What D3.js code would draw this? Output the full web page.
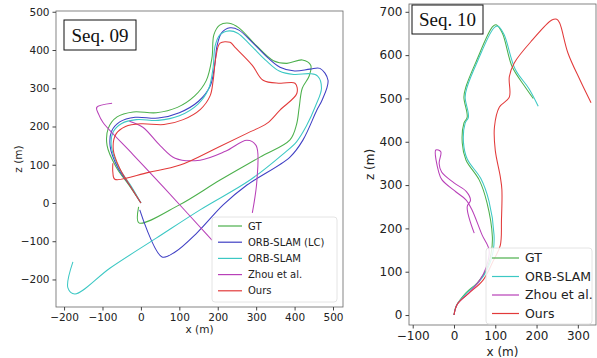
<!DOCTYPE html>
<html>
<head>
<meta charset="utf-8">
<script src="https://cdn.jsdelivr.net/npm/d3@7"></script>
<style>
  body { margin: 0; background: #fff; }
  text { font-family: "DejaVu Sans", sans-serif; }
</style>
</head>
<body>
<svg id="chart" width="597" height="358"></svg>
<script>
// ---- Seq. 09 trajectories, [x, z] in metres ----
const gt09 = [[0,0],[-30,45],[-65,95],[-88,150],[-85,195],[-62,225],[-20,238],[40,236],[95,250],[140,280],[170,320],[185,380],[190,440],[205,465],[230,470],[255,458],[300,412],[345,372],[380,365],[420,374],[442,360],[438,332],[420,300],[412,250],[405,205],[388,165],[310,120],[206,60],[100,-5],[-5,-52],[-6,-10]];
const orbLc09 = [[0,0],[-26,42],[-60,92],[-80,148],[-76,188],[-55,212],[-15,224],[45,222],[100,236],[150,266],[180,305],[192,360],[198,410],[210,445],[232,458],[255,452],[290,420],[330,380],[362,355],[400,345],[440,350],[466,352],[487,321],[472,270],[458,243],[422,165],[388,120],[276,47],[214,-5],[146,-78],[89,-128],[55,-141],[-3,-18]];
const orb09 = [[0,0],[-24,42],[-57,92],[-77,148],[-72,186],[-50,208],[-12,218],[45,216],[100,228],[148,258],[176,298],[188,355],[193,410],[206,440],[230,450],[252,444],[286,412],[326,372],[360,345],[398,336],[440,338],[460,332],[470,300],[455,255],[430,200],[405,160],[370,128],[284,60],[154,-18],[40,-92],[-80,-170],[-172,-238],[-190,-222],[-177,-154]];
const zhouA09 = [[-75,261],[-115,250],[-110,232],[-99,211],[-20,126],[60,40],[185,-97]];
const zhouB09 = [[-30,214],[5,198],[50,150],[89,117],[154,112],[220,135],[276,164],[300,150],[302,60],[290,-26]];
const ours09 = [[0,0],[-25,40],[-55,90],[-72,140],[-65,180],[-40,200],[0,207],[60,205],[110,218],[155,245],[180,280],[188,320],[195,380],[206,418],[232,420],[245,407],[290,360],[318,321],[362,313],[401,313],[406,287],[362,243],[328,208],[276,182],[200,145],[102,99],[20,80],[-68,62],[-73,80],[-73,104]];

// ---- Seq. 10 trajectories ----
const gt10 = [[0,0],[5,20],[29,51],[56,74],[78,104],[90,143],[93,180],[80,259],[61,312],[29,358],[20,397],[24,443],[32,457],[24,503],[29,527],[54,586],[93,665],[102,670],[117,651],[141,573],[172,527],[192,500]];
const orb10 = [[0,0],[6,22],[32,52],[60,76],[82,108],[95,148],[97,185],[85,262],[65,315],[32,360],[23,398],[27,443],[35,457],[27,503],[32,527],[57,586],[96,662],[106,667],[121,648],[148,568],[182,522],[204,482]];
const zhou10 = [[0,0],[8,25],[35,50],[62,80],[78,110],[85,150],[68,185],[44,242],[29,266],[5,284],[-29,312],[-37,330],[-44,381],[-32,377],[-36,350],[-30,330],[0,305],[30,285],[40,265],[32,250],[49,189]];
const ours10 = [[0,0],[8,25],[37,51],[70,80],[95,125],[112,160],[115,220],[116,290],[112,320],[100,380],[98,434],[110,480],[134,503],[134,550],[146,582],[190,635],[237,681],[249,683],[256,674],[276,605],[305,543],[332,490]];

const ticks09X = [-200, -100, 0, 100, 200, 300, 400, 500];
const ticks09Y = [-200, -100, 0, 100, 200, 300, 400, 500];
const ticks10X = [-100, 0, 100, 200, 300];
const ticks10Y = [0, 100, 200, 300, 400, 500, 600, 700];

const colors = {
  gt: "#4cb04c",
  orbLc: "#3f3fc4",
  orb: "#3cc8c4",
  zhou: "#b840b8",
  ours: "#e23a3a"
};

const svg = d3.select("#chart");

function drawPanel(cfg) {
  const x = d3.scaleLinear().domain(cfg.xDomain).range([cfg.left, cfg.right]);
  const y = d3.scaleLinear().domain(cfg.yDomain).range([cfg.bottom, cfg.top]);
  const g = svg.append("g");

  g.append("clipPath").attr("id", cfg.id + "-clip")
    .append("rect")
    .attr("x", cfg.left).attr("y", cfg.top)
    .attr("width", cfg.right - cfg.left).attr("height", cfg.bottom - cfg.top);

  const line = d3.line()
    .x(d => x(d[0]))
    .y(d => y(d[1]))
    .curve(d3.curveCatmullRom.alpha(0.5));

  const plot = g.append("g").attr("clip-path", `url(#${cfg.id}-clip)`);
  cfg.series.forEach(s => {
    s.parts.forEach(p => {
      plot.append("path")
        .attr("d", line(p))
        .attr("fill", "none")
        .attr("stroke", s.color)
        .attr("stroke-width", 1.05);
    });
  });

  // frame
  g.append("rect")
    .attr("x", cfg.left).attr("y", cfg.top)
    .attr("width", cfg.right - cfg.left).attr("height", cfg.bottom - cfg.top)
    .attr("fill", "none").attr("stroke", "#666").attr("stroke-width", 0.8);

  const xAxis = g.append("g")
    .attr("transform", `translate(0,${cfg.bottom})`)
    .call(d3.axisBottom(x).tickValues(cfg.xTicks).tickSize(3.5).tickPadding(3));
  const yAxis = g.append("g")
    .attr("transform", `translate(${cfg.left},0)`)
    .call(d3.axisLeft(y).tickValues(cfg.yTicks).tickSize(3.5).tickPadding(3));
  [xAxis, yAxis].forEach(a => {
    a.select(".domain").remove();
    a.selectAll("line").attr("stroke", "#444");
    a.selectAll("text")
      .attr("fill", "#222")
      .style("font-size", cfg.fontSize + "px")
      .style("font-family", "DejaVu Sans, sans-serif");
  });

  g.append("text")
    .attr("x", (cfg.left + cfg.right) / 2).attr("y", cfg.xLabelY)
    .attr("text-anchor", "middle")
    .style("font-size", cfg.fontSize + "px").attr("fill", "#222")
    .text("x (m)");
  g.append("text")
    .attr("transform", `translate(${cfg.yLabelX},${(cfg.top + cfg.bottom) / 2}) rotate(-90)`)
    .attr("text-anchor", "middle")
    .style("font-size", cfg.fontSize + "px").attr("fill", "#222")
    .text("z (m)");

  // sequence tag
  g.append("rect")
    .attr("x", cfg.tag.x).attr("y", cfg.tag.y)
    .attr("width", cfg.tag.w).attr("height", cfg.tag.h)
    .attr("fill", "#fff").attr("stroke", "#111").attr("stroke-width", 1);
  g.append("text")
    .attr("x", cfg.tag.x + cfg.tag.w / 2).attr("y", cfg.tag.y + cfg.tag.h / 2 + 6.5)
    .attr("text-anchor", "middle")
    .style("font-family", "Liberation Serif, Times New Roman, serif")
    .style("font-size", "19px").attr("fill", "#111")
    .text(cfg.tag.label);

  // legend
  const lg = cfg.legend;
  g.append("rect")
    .attr("x", lg.x).attr("y", lg.y).attr("width", lg.w).attr("height", lg.h)
    .attr("rx", 3).attr("fill", "#fff").attr("fill-opacity", 0.85)
    .attr("stroke", "#ddd").attr("stroke-width", 0.8);
  cfg.series.forEach((s, i) => {
    const ly = lg.y + lg.first + i * lg.step;
    g.append("line")
      .attr("x1", lg.x + 6).attr("x2", lg.x + 6 + lg.lineLen)
      .attr("y1", ly).attr("y2", ly)
      .attr("stroke", s.color).attr("stroke-width", 1.2);
    g.append("text")
      .attr("x", lg.x + 12 + lg.lineLen).attr("y", ly)
      .attr("dy", "0.35em")
      .style("font-size", lg.fontSize + "px").attr("fill", "#222")
      .text(s.name);
  });
}

drawPanel({
  id: "seq09",
  left: 56, right: 343, top: 11, bottom: 307,
  xDomain: [-221, 526], yDomain: [-272, 502],
  xTicks: ticks09X, yTicks: ticks09Y,
  fontSize: 10.5, xLabelY: 333, yLabelX: 22,
  tag: { x: 64, y: 20, w: 72, h: 30, label: "Seq. 09" },
  legend: { x: 212, y: 217, w: 125, h: 85, first: 9, step: 16.2, lineLen: 24, fontSize: 10 },
  series: [
    { name: "GT", color: colors.gt, parts: [gt09] },
    { name: "ORB-SLAM (LC)", color: colors.orbLc, parts: [orbLc09] },
    { name: "ORB-SLAM", color: colors.orb, parts: [orb09] },
    { name: "Zhou et al.", color: colors.zhou, parts: [zhouA09, zhouB09] },
    { name: "Ours", color: colors.ours, parts: [ours09] }
  ]
});

drawPanel({
  id: "seq10",
  left: 409, right: 596, top: 4, bottom: 325,
  xDomain: [-109, 344], yDomain: [-23, 718],
  xTicks: ticks10X, yTicks: ticks10Y,
  fontSize: 12, xLabelY: 356, yLabelX: 374,
  tag: { x: 412, y: 5, w: 71, h: 29, label: "Seq. 10" },
  legend: { x: 486, y: 248, w: 106, h: 76, first: 10, step: 18.5, lineLen: 27, fontSize: 12.5 },
  series: [
    { name: "GT", color: colors.gt, parts: [gt10] },
    { name: "ORB-SLAM", color: colors.orb, parts: [orb10] },
    { name: "Zhou et al.", color: colors.zhou, parts: [zhou10] },
    { name: "Ours", color: colors.ours, parts: [ours10] }
  ]
});
</script>
</body>
</html>
